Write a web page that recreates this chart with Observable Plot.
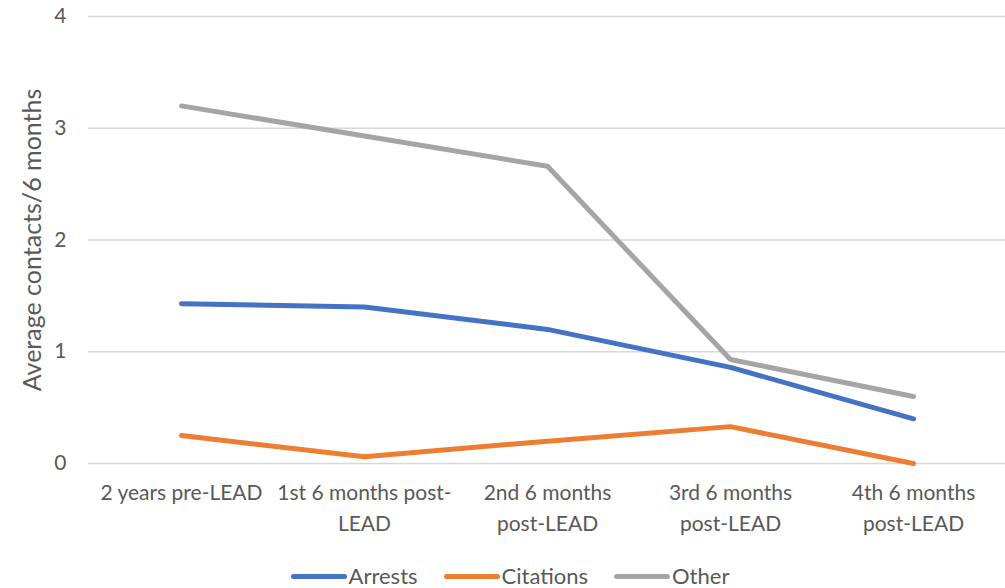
<!DOCTYPE html>
<html>
<head>
<meta charset="utf-8">
<script src="https://cdn.jsdelivr.net/npm/d3@7"></script>
<script src="https://cdn.jsdelivr.net/npm/@observablehq/plot@0.6"></script>
<style>
  html, body { margin: 0; padding: 0; background: #fff; }
  body { width: 1005px; height: 588px; overflow: hidden; font-family: Lato, "Open Sans", sans-serif; position: relative; }
  #legend { position: absolute; top: 563px; left: 0; width: 1005px; display: flex; justify-content: center; gap: 26px; padding-left: 15px; box-sizing: border-box; font-size: 22px; line-height: 26px; color: #595959; }
  .item { display: flex; align-items: center; gap: 2px; }
  .sw { width: 56px; height: 5px; border-radius: 3px; }
</style>
</head>
<body>
<div id="chart"></div>
<div id="legend"></div>
<script>
const categories = ["2 years pre-LEAD", "1st 6 months post-LEAD", "2nd 6 months post-LEAD", "3rd 6 months post-LEAD", "4th 6 months post-LEAD"];
const tickLabels = ["2 years pre-LEAD", "1st 6 months post-\nLEAD", "2nd 6 months\npost-LEAD", "3rd 6 months\npost-LEAD", "4th 6 months\npost-LEAD"];
const seriesNames = ["Arrests", "Citations", "Other"];
const arrests = [1.43, 1.40, 1.20, 0.86, 0.40];
const citations = [0.25, 0.06, 0.20, 0.33, 0.00];
const other = [3.20, 2.93, 2.66, 0.93, 0.60];
const colors = ["#4472C4", "#ED7D31", "#A5A5A5"];
const yTicks = [0, 1, 2, 3, 4];

const seriesValues = [arrests, citations, other];
const data = [];
seriesNames.forEach((s, i) => categories.forEach((c, j) => data.push({series: s, category: c, value: seriesValues[i][j]})));
const labelOf = new Map(categories.map((c, i) => [c, tickLabels[i]]));

const chart = Plot.plot({
  width: 1005,
  height: 560,
  marginLeft: 88,
  marginRight: 0,
  marginTop: 16,
  marginBottom: 97,
  style: {fontFamily: "Lato, 'Open Sans', sans-serif", fontSize: "21px", color: "#595959", background: "#fff"},
  x: {type: "point", domain: categories, padding: 0.5, label: null},
  y: {domain: [0, 4], label: null},
  color: {domain: seriesNames, range: colors},
  marks: [
    Plot.ruleY(yTicks, {stroke: "#D9D9D9", strokeWidth: 1.3}),
    Plot.axisY({ticks: yTicks, tickSize: 0, tickPadding: 22, tickFormat: d => String(d), label: null, fontSize: 21}),
    Plot.axisX({tickSize: 0, tickPadding: 15, tickFormat: d => labelOf.get(d), lineHeight: 1.45, fontSize: 21, label: null}),
    Plot.text(["Average contacts/6 months"], {frameAnchor: "left", textAnchor: "middle", dx: -56, rotate: -90, fontSize: 25, fill: "#595959"}),
    Plot.line(data, {x: "category", y: "value", z: "series", stroke: "series", strokeWidth: 5, strokeLinecap: "round", strokeLinejoin: "round"})
  ]
});
document.getElementById("chart").appendChild(chart);

const legend = d3.select("#legend");
seriesNames.forEach((s, i) => {
  const it = legend.append("div").attr("class", "item");
  it.append("div").attr("class", "sw").style("background", colors[i]);
  it.append("span").text(s);
});
</script>
</body>
</html>
